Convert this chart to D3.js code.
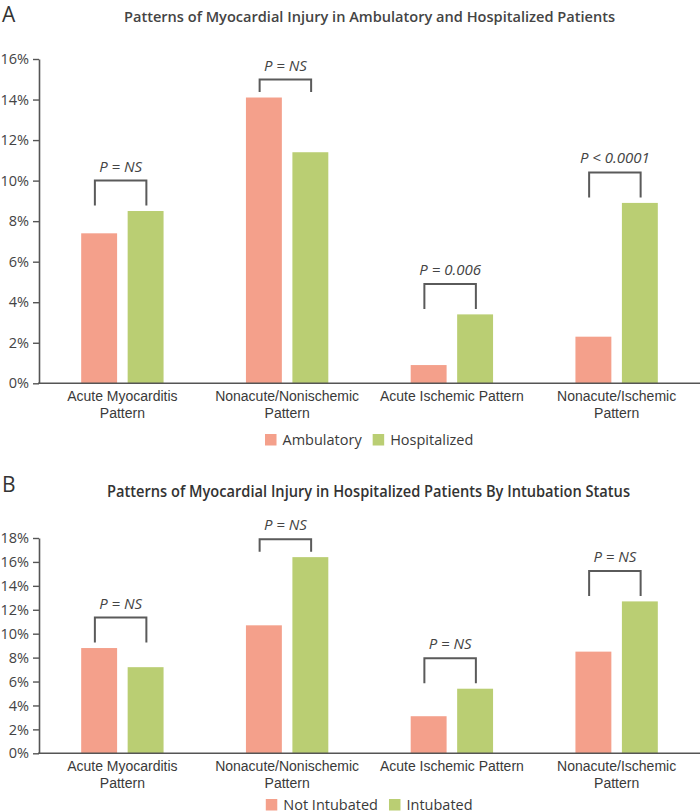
<!DOCTYPE html>
<html>
<head>
<meta charset="utf-8">
<script src="https://cdn.jsdelivr.net/npm/d3@7"></script>
<style>
  html, body { margin: 0; padding: 0; background: #fff; }
  svg { display: block; font-family: "Open Sans", "Noto Sans", sans-serif; }
</style>
</head>
<body>
<svg id="chart" width="700" height="812"></svg>
<script>
// ---------- DATA ----------
const categories = [
  "Acute Myocarditis Pattern",
  "Nonacute/Nonischemic Pattern",
  "Acute Ischemic Pattern",
  "Nonacute/Ischemic Pattern"
];
const categoryLines = [
  ["Acute Myocarditis", "Pattern"],
  ["Nonacute/Nonischemic", "Pattern"],
  ["Acute Ischemic Pattern"],
  ["Nonacute/Ischemic", "Pattern"]
];

const titleA = "Patterns of Myocardial Injury in Ambulatory and Hospitalized Patients";
const seriesA = ["Ambulatory", "Hospitalized"];
const ambulatory = [7.4, 14.1, 0.9, 2.3];
const hospitalized = [8.5, 11.4, 3.4, 8.9];
const pValuesA = ["P = NS", "P = NS", "P = 0.006", "P < 0.0001"];
const yTicksA = [0, 2, 4, 6, 8, 10, 12, 14, 16];

const titleB = "Patterns of Myocardial Injury in Hospitalized Patients By Intubation Status";
const seriesB = ["Not Intubated", "Intubated"];
const notIntubated = [8.8, 10.7, 3.1, 8.5];
const intubated = [7.2, 16.4, 5.4, 12.7];
const pValuesB = ["P = NS", "P = NS", "P = NS", "P = NS"];
const yTicksB = [0, 2, 4, 6, 8, 10, 12, 14, 16, 18];

// ---------- STYLE ----------
const colors = ["#F4A08B", "#BACE73"];
const axisColor = "#555";
const textColor = "#3a3a3a";
const bracketLegs = [25, 12.5, 25, 25];

const svg = d3.select("#chart");

function drawPanel(opt) {
  const g = svg.append("g");
  const x0 = d3.scaleBand().domain(categories).range([40, 699])
    .paddingInner(0.5).paddingOuter(0.25);
  const x1 = d3.scaleBand().domain([0, 1]).range([0, x0.bandwidth()])
    .paddingInner(0.227).paddingOuter(0);
  const y = d3.scaleLinear().domain([0, opt.yMax]).range([opt.y0, opt.yTop]);

  // panel letter
  g.append("text").attr("x", 2).attr("y", opt.letterY)
    .attr("font-size", 21).attr("fill", "#333").text(opt.letter);

  // title
  g.append("text").attr("x", opt.titleX).attr("y", opt.titleY)
    .attr("text-anchor", "middle").attr("font-size", opt.titleSize)
    .attr("font-weight", opt.titleWeight).attr("fill", opt.titleColor)
    .attr("textLength", opt.titleW).attr("lengthAdjust", "spacingAndGlyphs")
    .text(opt.title);

  // y axis
  const yAxis = d3.axisLeft(y).tickValues(opt.yTicks)
    .tickFormat(d => d + "%").tickSize(6).tickPadding(4).tickSizeOuter(0);
  const ya = g.append("g").attr("transform", "translate(39,0)").call(yAxis);
  ya.select(".domain").attr("stroke", axisColor).attr("stroke-width", 1.6);
  ya.selectAll(".tick line").attr("stroke", axisColor).attr("stroke-width", 1.4);
  ya.selectAll(".tick text").attr("font-size", 14.5).attr("fill", "#444")
    .attr("font-family", "'Open Sans', sans-serif");

  // bars
  const series = [opt.s1, opt.s2];
  series.forEach((vals, si) => {
    g.selectAll(null).data(vals).enter().append("rect")
      .attr("x", (d, i) => x0(categories[i]) + x1(si))
      .attr("width", x1.bandwidth())
      .attr("y", d => y(d))
      .attr("height", d => y(0) - y(d))
      .attr("fill", colors[si]);
  });

  // x axis
  const xAxis = d3.axisBottom(x0).tickSize(0).tickFormat("");
  const xa = g.append("g").attr("transform", `translate(0,${opt.y0})`).call(xAxis);
  xa.select(".domain").attr("d", `M-1,0H661`).attr("transform", "translate(39,0)")
    .attr("stroke", axisColor).attr("stroke-width", 1.6);
  xa.selectAll(".tick").each(function (d, i) {
    const t = d3.select(this).append("text").attr("text-anchor", "middle")
      .attr("font-size", 14).attr("fill", textColor);
    categoryLines[i].forEach((ln, li) => {
      t.append("tspan").attr("x", 0).attr("y", 17.8 + li * 16.6).text(ln);
    });
  });

  // brackets + p labels
  categories.forEach((c, i) => {
    const cx = x0(c) + x0.bandwidth() / 2;
    const xl = cx - 27.5, xr = cx + 24;
    const top = Math.max(opt.s1[i], opt.s2[i]);
    const legEnd = y(top) - 5.5;
    const bTop = legEnd - bracketLegs[i];
    g.append("path")
      .attr("d", `M${xl},${legEnd}V${bTop}H${xr}V${legEnd}`)
      .attr("fill", "none").attr("stroke", "#5a5a5a").attr("stroke-width", 2);
    g.append("text").attr("x", (xl + xr) / 2).attr("y", bTop - 9)
      .attr("text-anchor", "middle").attr("font-size", 15)
      .attr("font-style", "italic").attr("fill", "#444")
      .text(opt.p[i]);
  });

  // legend
  const lg = g.append("g");
  let cur = 0;
  opt.names.forEach((n, si) => {
    const it = lg.append("g").attr("transform", `translate(${cur},0)`);
    it.append("rect").attr("x", 0).attr("y", -10.5).attr("width", 11.5).attr("height", 11.5)
      .attr("fill", colors[si]);
    const tx = it.append("text").attr("x", 17.5).attr("y", 0)
      .attr("font-size", 14.5).attr("fill", textColor).text(n);
    const w = 17.5 + tx.node().getComputedTextLength();
    cur += w + 11;
  });
  const total = cur - 11;
  lg.attr("transform", `translate(${369.2 - total / 2},${opt.legendY})`);
}

drawPanel({
  letter: "A", letterY: 21.5,
  title: titleA, titleX: 369.5, titleY: 21.5, titleSize: 15, titleWeight: 600, titleW: 491,
  titleColor: "#444",
  yMax: 16, y0: 383.3, yTop: 59, yTicks: yTicksA,
  s1: ambulatory, s2: hospitalized, p: pValuesA, names: seriesA,
  legendY: 444.5
});

drawPanel({
  letter: "B", letterY: 491.5,
  title: titleB, titleX: 368.5, titleY: 497.3, titleSize: 16, titleWeight: 600, titleW: 523,
  titleColor: "#333",
  yMax: 18, y0: 753.3, yTop: 538, yTicks: yTicksB,
  s1: notIntubated, s2: intubated, p: pValuesB, names: seriesB,
  legendY: 809.5
});
</script>
</body>
</html>
